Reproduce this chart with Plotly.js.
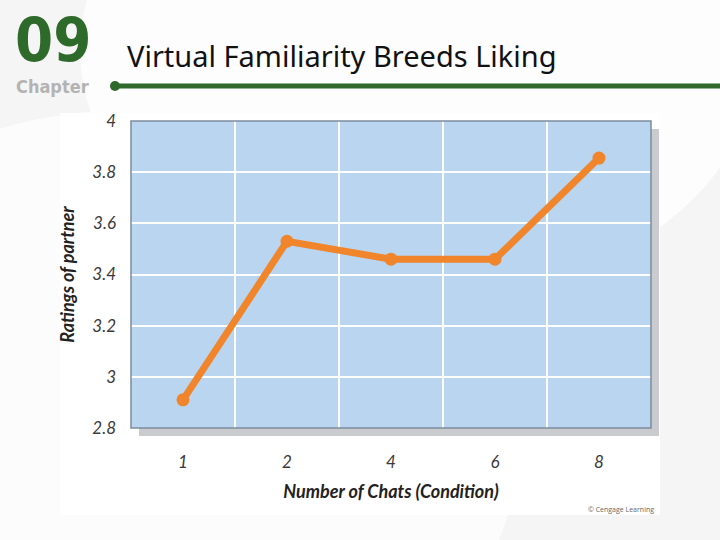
<!DOCTYPE html>
<html>
<head>
<meta charset="utf-8">
<script src="https://cdn.plot.ly/plotly-3.0.1.min.js"></script>
<style>html,body{margin:0;padding:0;background:#fff;}#chart{width:720px;height:540px;}</style>
</head>
<body>
<div id="chart"></div>
<script>
// Data
const conditions = ["1", "2", "4", "6", "8"];
const ratings = [2.91, 3.53, 3.46, 3.46, 3.855];
const yTicks = [2.8, 3, 3.2, 3.4, 3.6, 3.8, 4];
const yTickText = ["2.8", "3", "3.2", "3.4", "3.6", "3.8", "4"];
const chartTitle = "Virtual Familiarity Breeds Liking";
const xTitle = "Number of Chats (Condition)";
const yTitle = "Ratings of partner";

// pixel helpers (plot area: x 131..651, y 121..428)
const L = 131, R = 651, T = 121, B = 428;
const W = R - L, H = B - T;
const px = v => (v - L) / W;
const py = v => (B - v) / H;

const trace = {
  x: conditions,
  y: ratings,
  type: "scatter",
  mode: "lines+markers",
  line: {color: "#f0852b", width: 7},
  marker: {color: "#f0852b", size: 13},
  hoverinfo: "skip",
  cliponaxis: false
};

const axisFont = {family: "Lato, 'DejaVu Sans', sans-serif", size: 17, color: "#3a3a3a", style: "italic"};
const titleFont = {family: "Lato, 'DejaVu Sans', sans-serif", size: 18, color: "#222", style: "italic"};

const layout = {
  width: 720, height: 540,
  margin: {l: L, r: 720 - R, t: T, b: 540 - B},
  paper_bgcolor: "#f5f5f5",
  plot_bgcolor: "rgba(0,0,0,0)",
  showlegend: false,
  title: {
    text: chartTitle,
    x: 127 / 720, xanchor: "left", xref: "container",
    y: 1 - 57 / 540, yanchor: "middle", yref: "container",
    font: {family: "'Noto Sans', sans-serif", size: 29, color: "#111"}
  },
  xaxis: {
    type: "category",
    range: [-0.5, 4.5],
    tickson: "boundaries",
    showgrid: true, gridcolor: "#ffffff", gridwidth: 2,
    showline: false, zeroline: false,
    ticks: "", ticklabelstandoff: 22,
    tickfont: axisFont,
    fixedrange: true,
    title: {text: "<b>" + xTitle + "</b>", font: titleFont, standoff: 14}
  },
  yaxis: {
    range: [2.8, 4],
    tickvals: yTicks, ticktext: yTickText,
    showgrid: true, gridcolor: "#ffffff", gridwidth: 2,
    showline: false, zeroline: false,
    ticks: "", ticklabelstandoff: 14,
    tickfont: axisFont,
    fixedrange: true,
    title: {text: "<b>" + yTitle + "</b>", font: titleFont, standoff: 12}
  },
  shapes: [
    // subtle background swooshes
    {type: "circle", xref: "paper", yref: "paper", x0: px(-260), x1: px(520), y0: py(760), y1: py(110), fillcolor: "#fcfcfc", line: {width: 0}, layer: "below"},
    {type: "circle", xref: "paper", yref: "paper", x0: px(80), x1: px(760), y0: py(300), y1: py(-200), fillcolor: "#fdfdfd", line: {width: 0}, layer: "below"},
    // white panel
    {type: "rect", xref: "paper", yref: "paper", x0: px(60), x1: px(660), y0: py(515), y1: py(113), fillcolor: "#ffffff", line: {width: 0}, layer: "below"},
    // shadow
    {type: "rect", xref: "paper", yref: "paper", x0: px(L + 8), x1: px(R + 8), y0: py(B + 8), y1: py(T + 8), fillcolor: "#c9cbce", line: {width: 0}, layer: "below"},
    // plot background
    {type: "rect", xref: "paper", yref: "paper", x0: 0, x1: 1, y0: 0, y1: 1, fillcolor: "#b9d5f0", line: {width: 0}, layer: "below"},
    // plot border
    {type: "rect", xref: "paper", yref: "paper", x0: 0, x1: 1, y0: 0, y1: 1, fillcolor: "rgba(0,0,0,0)", line: {color: "#7d8c9c", width: 1.5}, layer: "above"},
    // header green rule
    {type: "line", xref: "paper", yref: "paper", x0: px(115), x1: px(722), y0: py(86), y1: py(86), line: {color: "#2f6a2c", width: 5}},
    {type: "circle", xref: "paper", yref: "paper", x0: px(110), x1: px(120), y0: py(91), y1: py(81), fillcolor: "#2f6a2c", line: {width: 0}}
  ],
  annotations: [
    {text: "<b>09</b>", xref: "paper", yref: "paper", x: px(13), y: py(39), xanchor: "left", yanchor: "middle", showarrow: false,
     font: {family: "'DejaVu Sans Condensed', 'DejaVu Sans', sans-serif", size: 61, color: "#2e6a2a"}},
    {text: "<b>Chapter</b>", xref: "paper", yref: "paper", x: px(14), y: py(87), xanchor: "left", yanchor: "middle", showarrow: false,
     font: {family: "'DejaVu Sans Condensed', sans-serif", size: 18, color: "#b3b3b3"}},
    {text: "© Cengage Learning", xref: "paper", yref: "paper", x: px(656), y: py(509), xanchor: "right", yanchor: "middle", showarrow: false,
     font: {family: "'Open Sans', sans-serif", size: 7, color: "#666"}}
  ]
};

Plotly.newPlot("chart", [trace], layout, {staticPlot: true, displayModeBar: false});
</script>
</body>
</html>
